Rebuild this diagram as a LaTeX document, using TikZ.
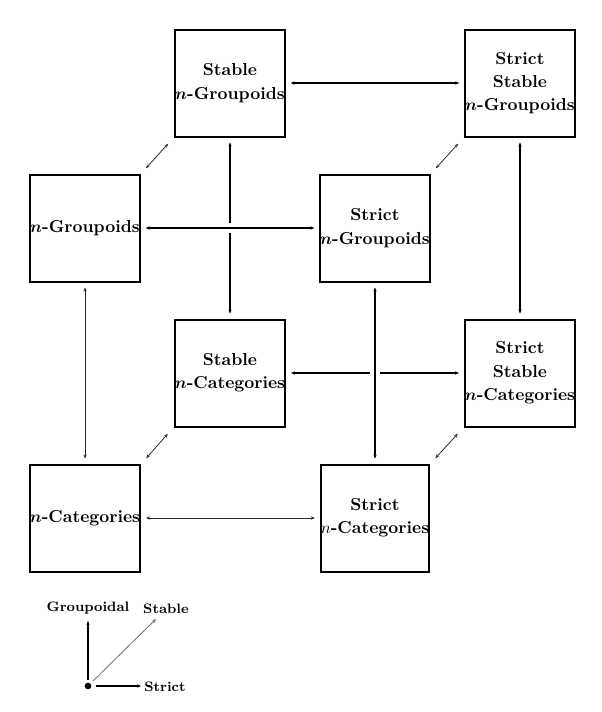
\documentclass[tikz,border=0pt]{standalone}
\usetikzlibrary{arrows.meta}
\begin{document}
\begin{tikzpicture}[x=0.6pt,y=-0.6pt,
  cat/.style={draw, line width=1.2pt, minimum size=64.2pt, inner sep=0pt, align=center,
    font=\fontsize{10.4}{14}\selectfont\bfseries\boldmath},
  tip/.style={{Stealth[length=2.4pt,width=2pt]}-{Stealth[length=2.4pt,width=2pt]}},
  thk/.style={tip, line width=1.1pt, shorten <=3pt, shorten >=3pt},
  thn/.style={tip, line width=0.55pt, black!85, shorten <=3pt, shorten >=3pt},
  diag/.style={tip, line width=0.5pt, black!80, shorten <=1pt, shorten >=1pt},
  halo/.style={preaction={draw=white, line width=5.5pt, arrows=-}},
  leg/.style={font=\fontsize{8.2}{10}\selectfont\bfseries, inner sep=1pt}]
\useasboundingbox (0,0) rectangle (601,712);
% boxes
\node[cat] (sg)  at (230,83)  {Stable\\$n$-Groupoids};
\node[cat] (ssg) at (520,83)  {Strict\\Stable\\$n$-Groupoids};
\node[cat] (g)   at (85,228)  {$n$-Groupoids};
\node[cat] (sgr) at (375,228) {Strict\\$n$-Groupoids};
\node[cat] (sc)  at (230,373) {Stable\\$n$-Categories};
\node[cat] (ssc) at (520,373) {Strict\\Stable\\$n$-Categories};
\node[cat] (c)   at (85,518)  {$n$-Categories};
\node[cat] (stc) at (375,518) {Strict\\{\unboldmath$n$}-Categories};
% back edges
\draw[thk] (sg) -- (ssg);
\draw[thk] (sg) -- (sc);
\draw[thk] (ssg) -- (ssc);
\draw[thk] (sc) -- (ssc);
% front edges
\draw[thk, halo] (g) -- (sgr);
\draw[thk, halo] (sgr) -- (stc);
\draw[thn] (g) -- (c);
\draw[thn] (c) -- (stc);
% diagonals
\path (g.north east) ++(4,-4) coordinate (d1a) (sg.south west) ++(-5,5) coordinate (d1b);
\draw[diag] (d1a) -- (d1b);
\path (sgr.north east) ++(4,-4) coordinate (d2a) (ssg.south west) ++(-5,5) coordinate (d2b);
\draw[diag] (d2a) -- (d2b);
\path (c.north east) ++(4,-4) coordinate (d3a) (sc.south west) ++(-5,5) coordinate (d3b);
\draw[diag] (d3a) -- (d3b);
\path (stc.north east) ++(4,-4) coordinate (d4a) (ssc.south west) ++(-5,5) coordinate (d4b);
\draw[diag] (d4a) -- (d4b);
% legend
\coordinate (o) at (88,686);
\fill (o) circle (2pt);
\node[leg] (lg) at (88,608) {Groupoidal};
\node[leg] (ls) at (166,609) {Stable};
\node[leg] (lt) at (165,687) {Strict};
\coordinate (og) at (88,680);
\coordinate (ogt) at (88,621);
\coordinate (os) at (93,681);
\coordinate (ost) at (156,619);
\coordinate (ot) at (96,686);
\coordinate (ott) at (141,686);
\draw[line width=1.1pt, -{Stealth[length=2.4pt,width=2pt]}] (og) -- (ogt);
\draw[line width=0.5pt, black!55, -{Stealth[length=2.4pt,width=2pt]}] (os) -- (ost);
\draw[line width=1.1pt, -{Stealth[length=2.4pt,width=2pt]}] (ot) -- (ott);
\end{tikzpicture}
\end{document}
